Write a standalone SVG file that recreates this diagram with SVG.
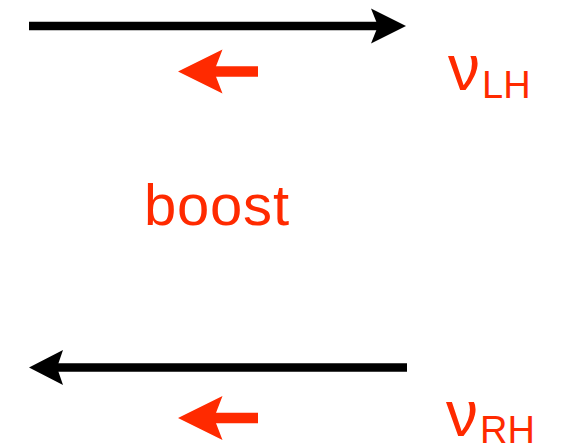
<svg xmlns="http://www.w3.org/2000/svg" width="562" height="448" viewBox="0 0 562 448">
  <style>
    .shaft-k { stroke: #000; stroke-width: 8.5; fill: none; }
    .head-k { fill: #000; }
    .shaft-r { stroke: #ff2a00; stroke-width: 10.5; fill: none; }
    .head-r { fill: #ff2a00; }
    .lbl { fill: #ff2a00; font-family: "Liberation Sans", "DejaVu Sans", sans-serif; }
    .nu { font-size: 64px; }
    .sub { font-size: 38px; }
  </style>
  <rect width="562" height="448" fill="#fff"/>

  <!-- left-handed case: momentum to the right, spin to the left -->
  <g id="top-momentum">
    <line class="shaft-k" x1="29" y1="26" x2="379" y2="26"/>
    <polygon class="head-k" points="406,26 371,8.5 378,26 371,43.5"/>
  </g>
  <g id="top-spin">
    <line class="shaft-r" x1="213" y1="71.5" x2="258" y2="71.5"/>
    <polygon class="head-r" points="178,71.5 222.5,49.5 214,71.5 222.5,93.5"/>
  </g>
  <g id="label-lh">
    <text class="lbl" x="448" y="90"><tspan class="nu">ν</tspan><tspan class="sub" y="98" dx="2">LH</tspan></text>
  </g>

  <g id="label-boost">
    <text class="lbl" x="144" y="225" font-size="58" textLength="145" lengthAdjust="spacing">boost</text>
  </g>

  <!-- right-handed case: momentum to the left, spin to the left -->
  <g id="bottom-momentum">
    <line class="shaft-k" x1="56" y1="367.5" x2="407" y2="367.5"/>
    <polygon class="head-k" points="29,367.5 63,350 57,367.5 63,385"/>
  </g>
  <g id="bottom-spin">
    <line class="shaft-r" x1="213" y1="418" x2="258" y2="418"/>
    <polygon class="head-r" points="178,418 222.5,396 214,418 222.5,440"/>
  </g>
  <g id="label-rh">
    <text class="lbl" x="446" y="436"><tspan class="nu">ν</tspan><tspan class="sub" y="443" dx="2">RH</tspan></text>
  </g>
</svg>
